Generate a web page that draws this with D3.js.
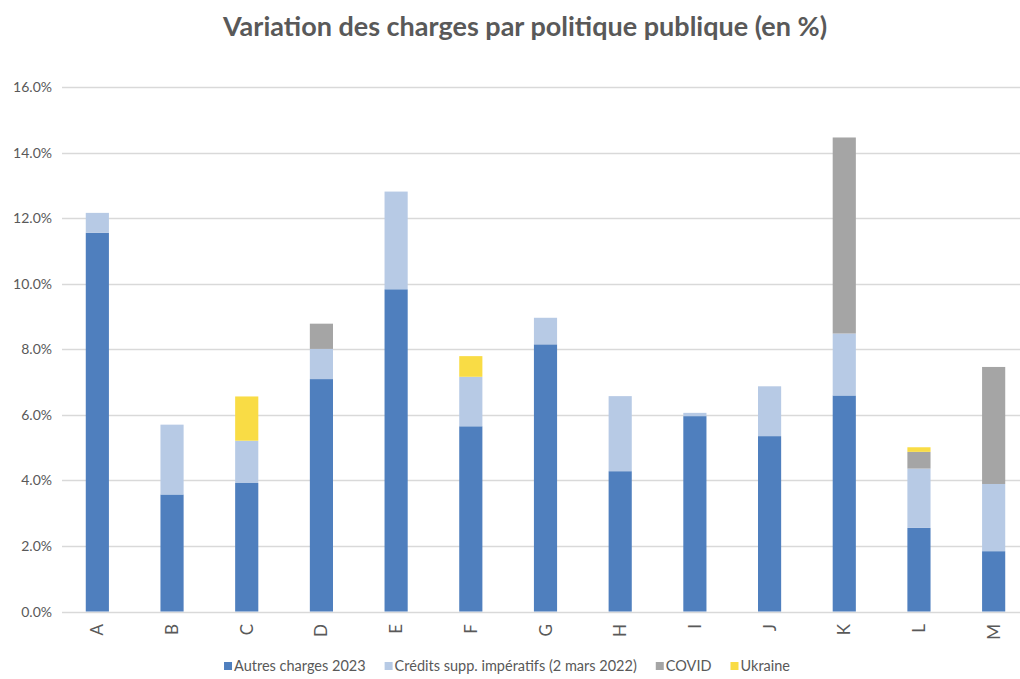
<!DOCTYPE html>
<head>
  <meta charset="utf-8" />
  <script src="https://d3js.org/d3.v7.min.js"></script>
  <style>
    body { margin: 0; background: #fff; }
    text { font-family: Lato, "Open Sans", sans-serif; }
  </style>
</head>
<body>
  <div id="chart"></div>
  <script>
    // données (en %)
    const politiques = ["A", "B", "C", "D", "E", "F", "G", "H", "I", "J", "K", "L", "M"];
    const autres2023 = [11.55, 3.57, 3.92, 7.09, 9.83, 5.65, 8.15, 4.28, 5.96, 5.35, 6.59, 2.55, 1.84];
    const creditsSupp = [0.61, 2.13, 1.29, 0.92, 2.98, 1.51, 0.81, 2.29, 0.10, 1.52, 1.89, 1.81, 2.05];
    const covid = [0, 0, 0, 0.77, 0, 0, 0, 0, 0, 0, 5.98, 0.51, 3.57];
    const ukraine = [0, 0, 1.35, 0, 0, 0.63, 0, 0, 0, 0, 0, 0.14, 0];
    const series = ["Autres charges 2023", "Crédits supp. impératifs (2 mars 2022)", "COVID", "Ukraine"];
    const yTicks = [0, 2, 4, 6, 8, 10, 12, 14, 16];

    const width = 1020, height = 679;
    const couleurs = ["#4f7fbe", "#b7cae5", "#a5a5a5", "#f9dc45"];

    const svg = d3.select("#chart").append("svg")
      .attr("width", width)
      .attr("height", height);

    // tableau pour d3.stack
    const table = politiques.map(function (p, i) {
      return { nom: p, s0: autres2023[i], s1: creditsSupp[i], s2: covid[i], s3: ukraine[i] };
    });
    const stack = d3.stack().keys(["s0", "s1", "s2", "s3"])(table);

    const x = d3.scaleBand()
      .domain(politiques)
      .range([60, 1031])
      .paddingInner(0.69)
      .paddingOuter(0.345);

    const y = d3.scaleLinear()
      .domain([0, 16])
      .range([611.5, 87]);

    // grille
    svg.append("g")
      .selectAll("line")
      .data(yTicks)
      .join("line")
      .attr("x1", 62)
      .attr("x2", 1020)
      .attr("y1", d => Math.round(y(d)) + 0.5)
      .attr("y2", d => Math.round(y(d)) + 0.5)
      .style("stroke", "#d9d9d9")
      .style("stroke-width", 1.3);

    // axe y
    svg.append("g")
      .selectAll("text")
      .data(yTicks)
      .join("text")
      .attr("x", 52)
      .attr("y", d => y(d) + 5)
      .attr("text-anchor", "end")
      .style("font-size", "14px")
      .style("fill", "#595959")
      .text(d => d.toFixed(1) + "%");

    // barres
    svg.append("g")
      .selectAll("g")
      .data(stack)
      .join("g")
      .style("fill", (d, i) => couleurs[i])
      .selectAll("rect")
      .data(d => d)
      .join("rect")
      .attr("x", d => x(d.data.nom))
      .attr("width", x.bandwidth())
      .attr("y", d => y(d[1]))
      .attr("height", d => y(d[0]) - y(d[1]));

    // étiquettes x (tournées)
    svg.append("g")
      .selectAll("text")
      .data(politiques)
      .join("text")
      .attr("transform", d => "translate(" + (x(d) + x.bandwidth() / 2 + 6) + ",624) rotate(-90)")
      .attr("text-anchor", "end")
      .style("font-size", "17px")
      .style("fill", "#595959")
      .text(d => d);

    // titre
    svg.append("text")
      .attr("x", 525)
      .attr("y", 36)
      .attr("text-anchor", "middle")
      .style("font-size", "27px")
      .style("font-weight", "bold")
      .style("fill", "#595959")
      .text("Variation des charges par politique publique (en %)");

    // légende : éléments placés les uns après les autres puis centrés
    const legende = svg.append("g");
    let pos = 0;
    series.forEach(function (s, i) {
      const item = legende.append("g").attr("transform", "translate(" + pos + ",0)");
      item.append("rect")
        .attr("width", 8)
        .attr("height", 8)
        .style("fill", couleurs[i]);
      const t = item.append("text")
        .attr("x", 10)
        .attr("y", 9)
        .style("font-size", "14.5px")
        .style("fill", "#595959")
        .text(s);
      pos += 10 + t.node().getComputedTextLength() + 19;
    });
    const largeur = pos - 19;
    legende.attr("transform", "translate(" + (507 - largeur / 2) + ",662)");
  </script>
</body>
